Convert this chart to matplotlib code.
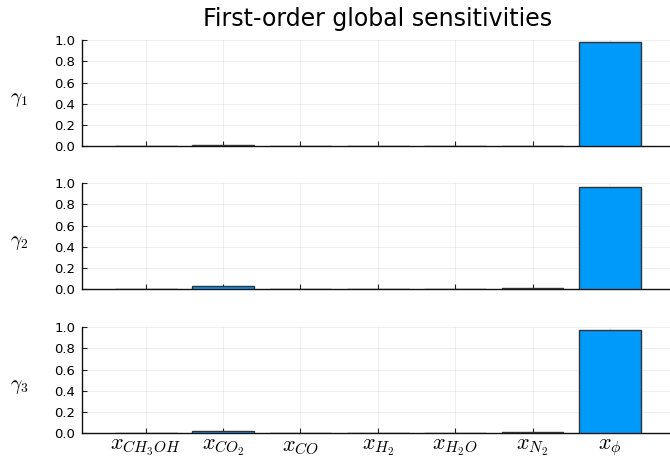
import matplotlib
matplotlib.use("Agg")
import matplotlib.pyplot as plt

# parameters and first-order indices for each output
params = [r"$x_{CH_3OH}$", r"$x_{CO_2}$", r"$x_{CO}$", r"$x_{H_2}$",
          r"$x_{H_2O}$", r"$x_{N_2}$", r"$x_{\phi}$"]
gamma1 = [0.003, 0.012, 0.003, 0.002, 0.003, 0.004, 0.981]
gamma2 = [0.002, 0.028, 0.002, 0.002, 0.003, 0.012, 0.966]
gamma3 = [0.002, 0.020, 0.002, 0.002, 0.002, 0.008, 0.977]
outputs = [r"$\gamma_1$", r"$\gamma_2$", r"$\gamma_3$"]

plt.rcParams['mathtext.fontset'] = 'cm'
plt.rcParams['font.family'] = 'DejaVu Sans'

fig = plt.figure(figsize=(6.7, 4.62), dpi=100)
fig.set_facecolor('white')

bottoms = [0.684, 0.3745, 0.0628]
height = 0.229
x = list(range(1, len(params) + 1))

for i, (vals, name) in enumerate(zip([gamma1, gamma2, gamma3], outputs)):
    ax = fig.add_axes([0.1224, bottoms[i], 0.883, height])
    ax.bar(x, vals, width=0.8, color='#009AFA', edgecolor='#333333', linewidth=1.0, zorder=3)
    ax.set_xlim(0.176, 7.824)
    ax.set_ylim(0, 1.0)
    ax.set_yticks([0.0, 0.2, 0.4, 0.6, 0.8, 1.0])
    ax.set_yticklabels(['0.0', '0.2', '0.4', '0.6', '0.8', '1.0'], fontsize=9.5)
    ax.set_xticks(x)
    if i == 2:
        ax.set_xticklabels(params, fontsize=16)
    else:
        ax.set_xticklabels([])
    ax.grid(True, color='#000000', alpha=0.07, linewidth=0.6, zorder=0)
    ax.tick_params(direction='in', length=3.5, width=0.8, color='#222222', pad=5)
    ax.tick_params(axis='x', pad=3)
    for s in ['top', 'right']:
        ax.spines[s].set_visible(False)
    for s in ['left', 'bottom']:
        ax.spines[s].set_linewidth(1.0)
        ax.spines[s].set_color('#111111')
    ax.set_ylabel(name, rotation=0, fontsize=14, va='center', ha='center')
    ax.yaxis.set_label_coords(-0.107, 0.44)
    if i == 0:
        ax.set_title('First-order global sensitivities', fontsize=17, pad=10)

fig.savefig('out.png', dpi=100)
